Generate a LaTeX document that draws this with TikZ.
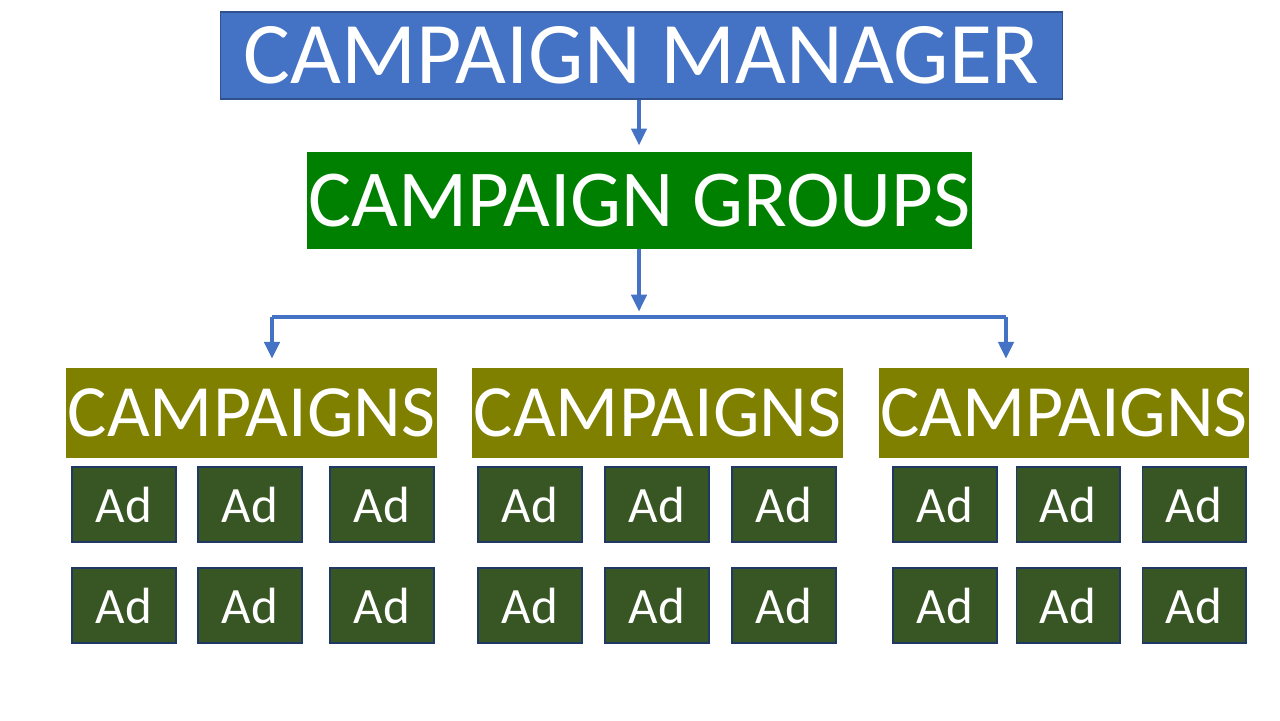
\documentclass[tikz,border=0pt]{standalone}
\usepackage{fontspec}
\setmainfont{Carlito}
\usetikzlibrary{arrows.meta}

\definecolor{mgrblue}{HTML}{4472C4}
\definecolor{mgrline}{HTML}{2F528F}
\definecolor{grpgreen}{HTML}{008000}
\definecolor{campolive}{HTML}{808000}
\definecolor{addark}{HTML}{375623}
\definecolor{adline}{HTML}{1F3864}

\tikzset{
  box/.style={inner sep=0pt, text=white},
  mgrbox/.style={box, fill=mgrblue, draw=mgrline, line width=0.6pt,
    minimum width=16.86cm, minimum height=1.74cm, font=\fontsize{50}{60}\selectfont},
  grpbox/.style={box, fill=grpgreen, minimum width=13.3cm, minimum height=1.94cm,
    font=\fontsize{46}{55}\selectfont},
  campbox/.style={box, fill=campolive, minimum width=7.42cm, minimum height=1.8cm,
    font=\fontsize{42}{50}\selectfont},
  adbox/.style={box, fill=addark, draw=adline, line width=0.6pt,
    minimum width=2.08cm, minimum height=1.5cm, font=\fontsize{29}{35}\selectfont},
  link/.style={draw=mgrblue, line width=2.4pt},
  arrow/.style={link, -{Triangle[width=0.3cm,length=0.34cm]}}
}

\begin{document}
\begin{tikzpicture}[x=0.02cm, y=-0.02cm]
  \useasboundingbox (0,0) rectangle (1280,720);

  \node[mgrbox]  (manager) at (641.5,55.5) {CAMPAIGN MANAGER};
  \node[grpbox]  (groups)  at (639.5,200.5) {CAMPAIGN GROUPS};

  \node[campbox] (camp 1) at (251.5,413) {CAMPAIGNS};
  \node[campbox] (camp 2) at (657.5,413) {CAMPAIGNS};
  \node[campbox] (camp 3) at (1064,413)  {CAMPAIGNS};

  % ads, two rows under each campaign
  \foreach \x [count=\i] in {124,250,382,530,657,784,945,1068,1194}{
    \node[adbox] (ad top \i) at (\x,504.5) {Ad};
    \node[adbox] (ad bot \i) at (\x,605.5) {Ad};
  }

  \coordinate (fork)   at (639,317);
  \coordinate (fork l) at (272,317);
  \coordinate (fork r) at (1006,317);

  \draw[arrow, shorten >=3.5pt] (manager.south -| fork) -- (groups.north -| fork);
  \draw[arrow, shorten >=3pt] (groups.south -| fork) -- (fork);
  \draw[link] (fork l) -- (fork r);
  \draw[arrow, shorten >=5pt] (fork l) -- (fork l |- camp 1.north);
  \draw[arrow, shorten >=5pt] (fork r) -- (fork r |- camp 3.north);
\end{tikzpicture}
\end{document}
